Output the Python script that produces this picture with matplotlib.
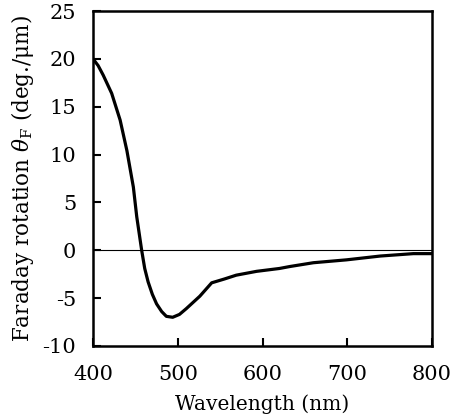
import matplotlib
matplotlib.use("Agg")
import matplotlib.pyplot as plt

plt.rcParams['font.family'] = 'DejaVu Serif'
plt.rcParams['mathtext.fontset'] = 'dejavuserif'
plt.rcParams['axes.unicode_minus'] = False

# Faraday rotation spectrum
wavelength = [400, 406, 412, 422, 432, 440, 447.6, 451.6, 457.4, 461, 465, 470, 475,
              481, 486.5, 494, 502, 510, 526, 540, 555, 569, 593, 620, 632, 660,
              699, 739, 778, 800]
rotation = [20.0, 19.3, 18.3, 16.4, 13.6, 10.4, 6.6, 3.5, 0.0, -1.9, -3.3, -4.6, -5.6,
            -6.4, -6.9, -7.0, -6.7, -6.1, -4.8, -3.4, -3.0, -2.6, -2.2, -1.9, -1.7, -1.3,
            -1.0, -0.6, -0.35, -0.35]

xticks = [400, 500, 600, 700, 800]
yticks = [-10, -5, 0, 5, 10, 15, 20, 25]

fig = plt.figure(figsize=(4.52, 4.20), dpi=100)
ax = fig.add_axes([0.2058, 0.1762, 0.75, 0.7976])

ax.axhline(0, color='black', lw=0.8)
ax.plot(wavelength, rotation, color='black', lw=2.3, solid_joinstyle='round')

ax.set_xlim(400, 800)
ax.set_ylim(-10, 25)
ax.set_xticks(xticks)
ax.set_yticks(yticks)
ax.tick_params(direction='in', length=6, width=1.5, labelsize=15)
ax.tick_params(axis='x', pad=14)
ax.tick_params(axis='y', pad=12)
for s in ax.spines.values():
    s.set_linewidth(1.8)

ax.set_xlabel('Wavelength (nm)', fontsize=14.5, labelpad=7)
ax.set_ylabel(r'Faraday rotation $\theta_{\mathrm{F}}$ (deg./μm)', fontsize=15.5, labelpad=5)

fig.savefig('out.png', dpi=100)
